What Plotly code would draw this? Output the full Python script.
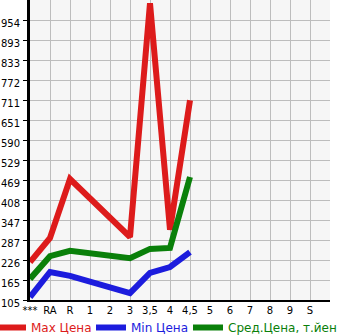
import plotly.graph_objects as go

categories = ["***", "RA", "R", "1", "2", "3", "3,5", "4", "4,5", "5", "6", "7", "8", "9", "S"]
max_price = [220, 293, 472, None, None, 296, 1005, 318, 711, None, None, None, None, None, None]
min_price = [114, 190, 178, None, None, 126, 187, 205, 250, None, None, None, None, None, None]
avg_price = [169, 238, 254, None, None, 232, 260, 263, 478, None, None, None, None, None, None]
y_tick_labels = ["105", "165", "226", "287", "347", "408", "469", "529", "590",
                 "651", "711", "772", "833", "893", "954"]

RED = "#dd1b1b"
BLUE = "#1c1cdd"
GREEN = "#0a800a"
FONT = "DejaVu Sans, Verdana, sans-serif"
W, H = 345, 335
ML, PW = 30, 300

fig = go.Figure()
series = [
    ("Max Цена", max_price, RED, "legend", -9),
    ("Min Цена", min_price, BLUE, "legend2", 91),
    ("Сред.Цена, т.йен", avg_price, GREEN, "legend3", 188),
]
legends = {}
for name, vals, col, leg, lx in series:
    fig.add_trace(go.Scatter(
        x=categories, y=vals, mode="lines", connectgaps=True,
        name=name, legend=leg,
        line=dict(color=col, width=6),
    ))
    legends[leg] = dict(
        orientation="h", xref="paper", x=(lx - ML) / PW, xanchor="left",
        yref="container", y=(H - 327.5) / H, yanchor="middle",
        font=dict(family=FONT, size=12, color=col), bgcolor="rgba(0,0,0,0)",
        itemwidth=30, borderwidth=0,
    )

fig.update_layout(
    width=W, height=H,
    margin=dict(l=ML, r=W - ML - PW, t=0, b=35, autoexpand=False),
    paper_bgcolor="white",
    plot_bgcolor="#f6f6f6",
    font=dict(family=FONT, size=10, color="black"),
    showlegend=True,
    **legends,
)
fig.update_xaxes(
    type="category", categoryorder="array", categoryarray=categories,
    range=[0, 15], showgrid=True, gridcolor="#bdbdbd", gridwidth=1,
    showline=True, linecolor="black", linewidth=2,
    ticks="", tickfont=dict(size=10), fixedrange=True, zeroline=False,
)
fig.update_yaxes(
    range=[105, 1015], tickmode="array",
    tickvals=[int(t) for t in y_tick_labels], ticktext=y_tick_labels,
    showgrid=True, gridcolor="#bdbdbd", gridwidth=1,
    showline=True, linecolor="black", linewidth=3,
    ticks="outside", ticklen=4, tickcolor="black", tickwidth=1,
    tickfont=dict(size=10), zeroline=False,
    ticklabelstandoff=1, ticklabelshift=3,
)

fig.write_html("out.html")
